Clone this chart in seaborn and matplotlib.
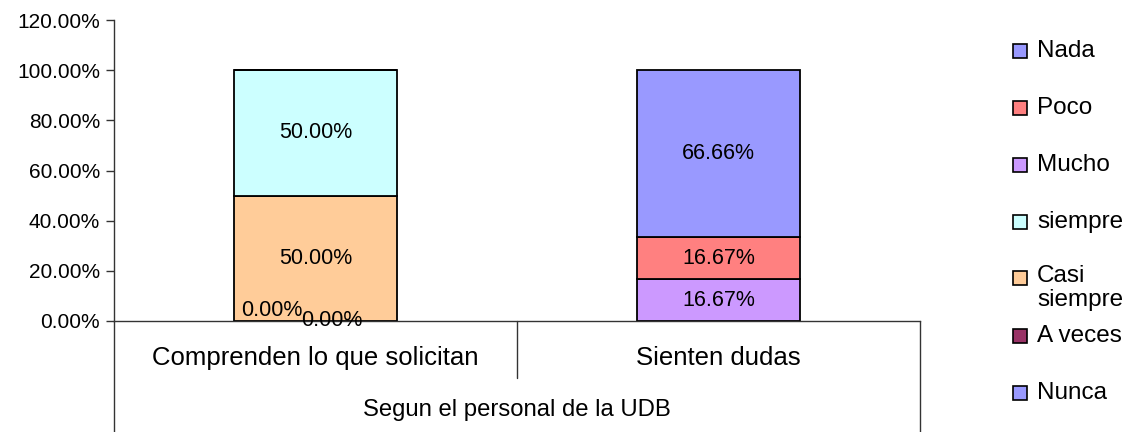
import matplotlib
matplotlib.use("Agg")
import matplotlib.pyplot as plt
from matplotlib.patches import Rectangle
import seaborn as sns
import pandas as pd
import numpy as np

categories = ["Comprenden lo que solicitan", "Sienten dudas"]
group_label = "Segun el personal de la UDB"
# stacking order bottom -> top
series = ["Nunca", "A veces", "Casi siempre", "siempre", "Mucho", "Poco", "Nada"]
values = {
    "Nunca":        [0.0, np.nan],
    "A veces":      [0.0, np.nan],
    "Casi siempre": [50.0, np.nan],
    "siempre":      [50.0, np.nan],
    "Mucho":        [np.nan, 16.67],
    "Poco":         [np.nan, 16.67],
    "Nada":         [np.nan, 66.66],
}
colors = {
    "Nada": "#9999FF", "Poco": "#FF8080", "Mucho": "#CC99FF",
    "siempre": "#CCFFFF", "Casi siempre": "#FFCC99",
    "A veces": "#993366", "Nunca": "#9999FF",
}
legend_order = ["Nada", "Poco", "Mucho", "siempre", "Casi siempre", "A veces", "Nunca"]
yticks = [0, 20, 40, 60, 80, 100, 120]

sns.set_theme(style="white")
plt.rcParams["font.family"] = ["Liberation Sans", "DejaVu Sans"]
plt.rcParams["text.color"] = "black"
plt.rcParams["ytick.color"] = "black"

fig = plt.figure(figsize=(11.36, 4.32), dpi=100)
ax = fig.add_axes([114/1136, (432-321)/432, (920-114)/1136, 301/432])

bottoms = np.zeros(len(categories))
for s in series:
    vals = np.array(values[s], dtype=float)
    v = np.nan_to_num(vals)
    mask = ~np.isnan(vals)
    df = pd.DataFrame({"cat": categories, "val": v})
    if mask.any():
        sns.barplot(data=df, x="cat", y="val", bottom=bottoms,
                    order=categories, color=colors[s], width=0.405,
                    edgecolor="black", linewidth=1.3, ax=ax, errorbar=None,
                    saturation=1)
    for i, (val, m) in enumerate(zip(vals, mask)):
        if m and val > 0:
            ax.text(i, bottoms[i] + val/2, f"{val:.2f}%", ha="center", va="center",
                    fontsize=15.5, color="black")
    bottoms = bottoms + v

# zero-value labels (Excel placement near baseline)
zero_offsets = {"Nunca": (-0.108, 4.0), "A veces": (0.04, 0.0)}
for s, (dx, dy) in zero_offsets.items():
    for i, val in enumerate(values[s]):
        if not np.isnan(val) and val == 0:
            ax.text(i + dx, val + dy, f"{val:.2f}%", ha="center", va="center",
                    fontsize=15.5, color="black")

ax.set_xlim(-0.5, 1.5)
ax.set_ylim(0, 120)
ax.set_yticks(yticks)
ax.set_yticklabels([f"{t:.2f}%" for t in yticks], fontsize=15, color="black")
ax.set_xticks([])
ax.set_xlabel("")
ax.set_ylabel("")
for sp in ["top", "right"]:
    ax.spines[sp].set_visible(False)
for sp in ["left", "bottom"]:
    ax.spines[sp].set_color("#333333")
    ax.spines[sp].set_linewidth(1.0)
ax.tick_params(axis="y", which="both", left=True, length=6, width=1, color="#333333", pad=4)

# category axis decorations
lc = "#333333"
ax.plot([0, 0], [0, -111/301], transform=ax.transAxes, clip_on=False, color=lc, lw=1)
ax.plot([1, 1], [0, -111/301], transform=ax.transAxes, clip_on=False, color=lc, lw=1)
ax.plot([0.5, 0.5], [0, -57/301], transform=ax.transAxes, clip_on=False, color=lc, lw=1)
for i, c in enumerate(categories):
    ax.text((i + 0.5) / 2, -37/301, c, transform=ax.transAxes, ha="center", va="center",
            fontsize=18.5, color="black")
ax.text(0.5, -89/301, group_label, transform=ax.transAxes, ha="center", va="center",
        fontsize=17.2, color="black")

# legend
ys = {"Nada": 51, "Poco": 108, "Mucho": 165, "siempre": 222, "Casi siempre": 278,
      "A veces": 336, "Nunca": 393}
for s in legend_order:
    yc = ys[s]
    fig.patches.append(Rectangle((1013/1136, (432 - yc - 7)/432), 14/1136, 14/432,
                                 transform=fig.transFigure, facecolor=colors[s],
                                 edgecolor="black", lw=1.2))
    if s == "Casi siempre":
        fig.text(1037/1136, (432 - yc + 13)/432, "Casi\nsiempre", ha="left", va="top",
                 fontsize=17.5, linespacing=1.1, color="black")
    else:
        fig.text(1037/1136, (432 - yc)/432, s, ha="left", va="center", fontsize=17.5,
                 color="black")

fig.savefig("out.png", dpi=100)
